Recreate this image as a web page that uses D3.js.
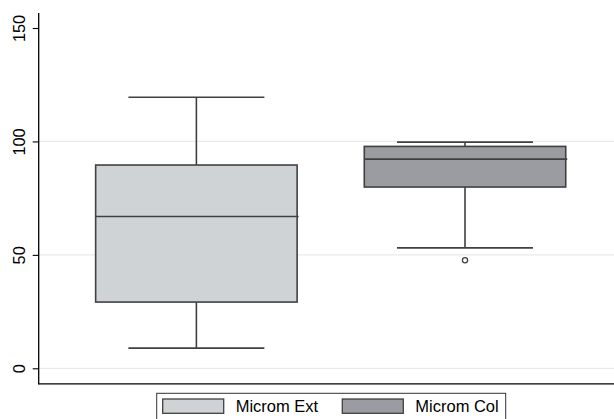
<!DOCTYPE html>
<html><head><meta charset="utf-8">
<script src="https://cdn.jsdelivr.net/npm/d3@7"></script>
<style>body{margin:0;background:#fff}svg{display:block}text{font-family:"Liberation Sans",Arial,sans-serif}</style>
</head><body><svg id="c" width="614" height="419"></svg>
<script>
const categories = ["Microm Ext", "Microm Col"];
const lowerWhisker = [8.9, 53.1];
const q1 = [29.2, 79.9];
const median = [66.9, 92.2];
const q3 = [89.6, 97.8];
const upperWhisker = [119.5, 99.7];
const outliers = [[], [47.6]];
const yTicks = [0, 50, 100, 150];
const gridTicks = [0, 50, 100];
const fills = ["#d0d3d6", "#9a9ca2"];

const svg = d3.select("#c");
const x = d3.scaleBand().domain(categories).range([38.7, 622.7]).paddingInner(0.25).paddingOuter(0.212);
const y = d3.scaleLinear().domain([0, 150]).range([368.3, 28]);
const plotLeft = 38.7, plotRight = 614, yMin = -6.9, yMax = 156.6;
const stroke = "#404040";
const sw = 1.6;

// grid
svg.append("g").selectAll("line").data(gridTicks).join("line")
  .attr("x1", plotLeft).attr("x2", plotRight)
  .attr("y1", d => y(d)).attr("y2", d => y(d))
  .attr("stroke", "#eaeaea").attr("stroke-width", 1.3);

// y axis
const yAxis = svg.append("g").attr("transform", `translate(${plotLeft},0)`)
  .call(d3.axisLeft(y).tickValues(yTicks).tickSize(6).tickPadding(6));
yAxis.select(".domain").remove();
yAxis.selectAll(".tick line").attr("stroke", "#000").attr("stroke-width", 1.1);
yAxis.selectAll(".tick text")
  .attr("transform", "rotate(-90)")
  .attr("x", 0).attr("y", -14)
  .attr("dy", 0)
  .attr("text-anchor", "middle")
  .attr("font-size", 16.3).attr("fill", "#000");
svg.append("line").attr("x1", plotLeft).attr("x2", plotLeft)
  .attr("y1", y(yMax)).attr("y2", y(yMin) + 0.6).attr("stroke", "#000").attr("stroke-width", 1.3);
svg.append("line").attr("x1", plotLeft).attr("x2", plotRight)
  .attr("y1", y(yMin)).attr("y2", y(yMin)).attr("stroke", "#000").attr("stroke-width", 1.3);

// boxes
const bw = x.bandwidth();
const capW = bw * 0.675;
categories.forEach((c, i) => {
  const g = svg.append("g");
  const cx = x(c) + bw / 2;
  g.append("line").attr("x1", cx).attr("x2", cx).attr("y1", y(upperWhisker[i])).attr("y2", y(q3[i]))
    .attr("stroke", stroke).attr("stroke-width", sw);
  g.append("line").attr("x1", cx).attr("x2", cx).attr("y1", y(q1[i])).attr("y2", y(lowerWhisker[i]))
    .attr("stroke", stroke).attr("stroke-width", sw);
  g.append("line").attr("x1", cx - capW / 2).attr("x2", cx + capW / 2)
    .attr("y1", y(upperWhisker[i])).attr("y2", y(upperWhisker[i])).attr("stroke", stroke).attr("stroke-width", sw);
  g.append("line").attr("x1", cx - capW / 2).attr("x2", cx + capW / 2)
    .attr("y1", y(lowerWhisker[i])).attr("y2", y(lowerWhisker[i])).attr("stroke", stroke).attr("stroke-width", sw);
  g.append("rect").attr("x", x(c)).attr("width", bw)
    .attr("y", y(q3[i])).attr("height", y(q1[i]) - y(q3[i]))
    .attr("fill", fills[i]).attr("stroke", stroke).attr("stroke-width", sw);
  g.append("line").attr("x1", x(c)).attr("x2", x(c) + bw + 1.5)
    .attr("y1", y(median[i])).attr("y2", y(median[i])).attr("stroke", stroke).attr("stroke-width", sw);
  g.selectAll("circle").data(outliers[i]).join("circle")
    .attr("cx", cx).attr("cy", d => y(d)).attr("r", 2.6)
    .attr("fill", "none").attr("stroke", stroke).attr("stroke-width", 1.3);
});

// legend
const lg = svg.append("g");
lg.append("rect").attr("x", 156.7).attr("y", 393.3).attr("width", 349).attr("height", 40)
  .attr("fill", "#fff").attr("stroke", "#333").attr("stroke-width", 1);
const legX = [162.7, 342.3];
categories.forEach((c, i) => {
  lg.append("rect").attr("x", legX[i]).attr("y", 399).attr("width", 61).attr("height", 14.3)
    .attr("fill", fills[i]).attr("stroke", stroke).attr("stroke-width", 1.3);
  lg.append("text").attr("x", legX[i] + 73).attr("y", 412).attr("font-size", 16.5)
    .attr("fill", "#000").text(c);
});
</script></body></html>
